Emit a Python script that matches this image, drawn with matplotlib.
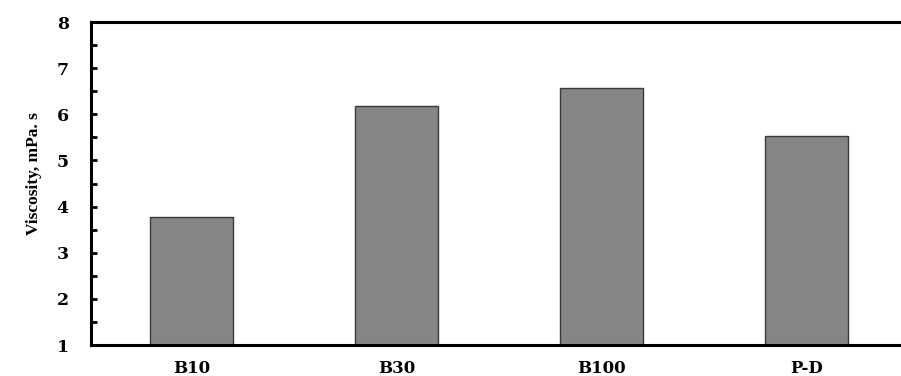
import matplotlib
matplotlib.use("Agg")
import matplotlib.pyplot as plt
from matplotlib.ticker import MultipleLocator

categories = ["B10", "B30", "B100", "P-D"]
viscosity = [3.77, 6.17, 6.57, 5.54]
yticks = [1, 2, 3, 4, 5, 6, 7, 8]

plt.rcParams['font.family'] = ['DejaVu Serif']
plt.rcParams['font.weight'] = 'bold'

fig = plt.figure(figsize=(9.01, 3.76), dpi=100)
ax = fig.add_axes([0.101, 0.0824, 0.899, 0.859])

x = list(range(len(categories)))
ax.bar(x, [v - 1 for v in viscosity], bottom=1, width=0.405,
       color="#858585", edgecolor="#3a3a3a", linewidth=1.0, zorder=2)

ax.set_xlim(-0.49, 3.46)
ax.set_ylim(1, 8)
ax.set_yticks(yticks)
ax.set_yticklabels([str(t) for t in yticks], fontsize=12.5, fontweight='bold')
ax.yaxis.set_minor_locator(MultipleLocator(0.5))
ax.set_xticks(x)
ax.set_xticklabels(categories, fontsize=12, fontweight='bold')
ax.tick_params(axis='x', length=0, pad=11)
ax.tick_params(axis='y', which='both', direction='in', length=4, width=2, pad=16)

for s in ['left', 'bottom', 'top']:
    ax.spines[s].set_linewidth(2.2)
ax.spines['right'].set_visible(False)

ax.set_ylabel("Viscosity, mPa. s", fontsize=12.5, fontweight='bold',
              family=['Liberation Serif', 'DejaVu Serif'])
ax.yaxis.set_label_coords(-0.061, 0.53)

fig.savefig("out.png", dpi=100)
